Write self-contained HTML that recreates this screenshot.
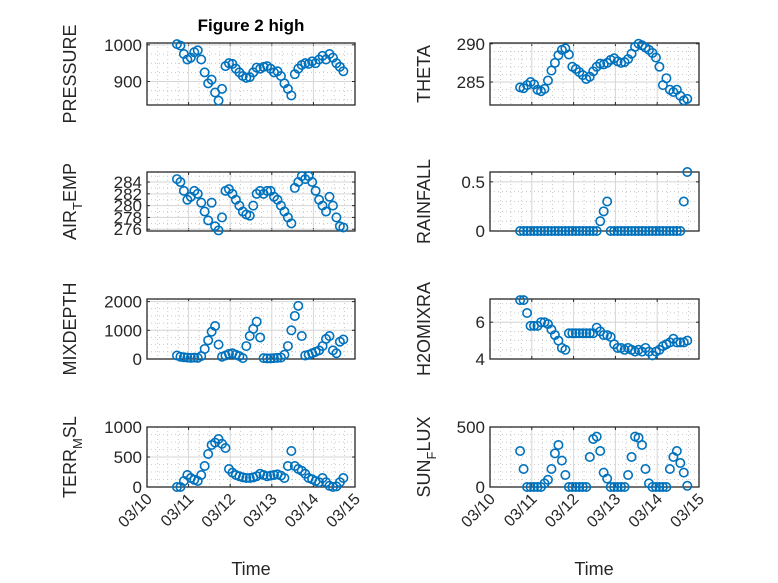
<!DOCTYPE html>
<html><head><meta charset="utf-8"><style>
html,body{margin:0;padding:0;background:#fff;}
svg{display:block;font-family:"Liberation Sans",sans-serif;}
</style></head><body>
<svg id="fig" width="778" height="583" viewBox="0 0 778 583" xmlns="http://www.w3.org/2000/svg">
<rect width="778" height="583" fill="#fff"/>
<text x="251" y="31" text-anchor="middle" font-size="17" font-weight="bold" fill="#000">Figure 2 high</text>
<text x="251" y="575" text-anchor="middle" font-size="18" fill="#262626">Time</text>
<text x="594" y="575" text-anchor="middle" font-size="18" fill="#262626">Time</text>
</svg>
<script>
const timeStart = 0.72;
const timeStepDays = 1/12;
const dayLabels = ["03/10","03/11","03/12","03/13","03/14","03/15"];
const pressure = [1002,998,975,960,965,980,985,960,925,895,905,870,848,880,942,950,948,935,925,915,910,912,925,938,935,940,942,935,925,928,915,895,880,862,920,935,945,950,948,955,950,960,970,960,975,965,950,940,928];
const airTemp = [284.5,284,282.5,281,281.5,282.5,282,280.5,279,277.5,280.5,276.5,275.8,278,282.5,282.8,282,281,280,279,278.5,278.3,280,282,282.5,282,282.5,282.5,281.5,281,280,279,278,277,283,284,285,284.5,285,284,282.5,281,280,279,281.5,280,278,276.5,276.3];
const mixDepth = [120,80,60,50,40,50,40,100,350,650,950,1150,500,80,120,180,200,150,100,30,450,800,1050,1300,750,30,20,20,30,40,50,150,450,1000,1500,1850,800,120,150,200,250,300,450,700,800,300,200,600,680];
const terrMsl = [0,0,100,200,150,120,100,200,350,550,700,740,800,720,650,300,240,200,180,160,150,150,160,180,220,200,180,190,200,210,190,150,350,600,350,300,270,220,150,130,100,80,150,80,20,0,10,80,150];
const theta = [284.3,284.2,284.6,285,284.7,284,283.8,284.1,285.2,286.5,287.5,288.5,289.2,289.4,288.6,287,286.7,286.3,285.9,285.4,285.7,286.4,287,287.4,287.3,287.5,287.9,288.1,287.7,287.5,287.6,288,288.7,289.6,290,289.8,289.5,289.2,288.8,288.2,287,284.6,285.5,284,283.7,284,283.2,282.6,282.8];
const rainfall = [0,0,0,0,0,0,0,0,0,0,0,0,0,0,0,0,0,0,0,0,0,0,0,0.1,0.2,0.3,0,0,0,0,0,0,0,0,0,0,0,0,0,0,0,0,0,0,0,0,0,0.3,0.6];
const h2oMix = [7.2,7.2,6.5,5.8,5.8,5.8,6.0,6.0,5.9,5.6,5.3,5.0,4.6,4.5,5.4,5.4,5.4,5.4,5.4,5.4,5.4,5.4,5.7,5.5,5.3,5.3,5.2,4.8,4.6,4.6,4.5,4.6,4.5,4.4,4.5,4.4,4.6,4.4,4.2,4.4,4.5,4.7,4.8,4.9,5.1,4.9,4.9,4.9,5.0];
const sunFlux = [300,150,0,0,0,0,0,30,60,150,280,350,220,100,0,0,0,0,0,0,250,400,420,300,120,70,0,0,0,0,0,100,250,420,410,350,150,30,0,0,0,0,0,150,250,300,200,120,10];
const pressureTicks = [900,1000];
const airTicks = [276,278,280,282,284];
const mixTicks = [0,1000,2000];
const terrTicks = [0,500,1000];
const thetaTicks = [285,290];
const rainTicks = [0,0.5];
const h2oTicks = [4,6];
const sunTicks = [0,500];

const NS="http://www.w3.org/2000/svg";
const svg=document.getElementById('fig');
function mk(tag,attrs,parent){const e=document.createElementNS(NS,tag);for(const k in attrs)e.setAttribute(k,attrs[k]);(parent||svg).appendChild(e);return e;}

const panels=[
 {key:'pressure',data:pressure,ticks:pressureTicks,dom:[836,1005],minor:25,x0:147,x1:355,y0:43,y1:105,label:[['PRESSURE','']]},
 {key:'air-temp',data:airTemp,ticks:airTicks,dom:[275.7,285.7],minor:1,x0:147,x1:355,y0:172,y1:231,label:[['AIR',''],['T','sub'],['EMP','']]},
 {key:'mixdepth',data:mixDepth,ticks:mixTicks,dom:[0,2090],minor:250,x0:147,x1:355,y0:299,y1:359,label:[['MIXDEPTH','']]},
 {key:'terr-msl',data:terrMsl,ticks:terrTicks,dom:[0,1000],minor:125,x0:147,x1:355,y0:427,y1:487,label:[['TERR',''],['M','sub'],['SL','']],bottom:true},
 {key:'theta',data:theta,ticks:thetaTicks,dom:[282,290.1],minor:1,x0:490,x1:699,y0:43,y1:105,label:[['THETA','']]},
 {key:'rainfall',data:rainfall,ticks:rainTicks,dom:[0,0.6],minor:0.1,x0:490,x1:699,y0:172,y1:231,label:[['RAINFALL','']]},
 {key:'h2omixra',data:h2oMix,ticks:h2oTicks,dom:[4,7.26],minor:0.5,x0:490,x1:699,y0:299,y1:359,label:[['H2OMIXRA','']]},
 {key:'sun-flux',data:sunFlux,ticks:sunTicks,dom:[0,500],minor:62.5,x0:490,x1:699,y0:427,y1:487,label:[['SUN',''],['F','sub'],['LUX','']],bottom:true}
];

panels.forEach(p=>{
 const g=mk('g',{});
 
 
 const xs=t=>p.x0+(t/5)*(p.x1-p.x0);
 const ys=v=>p.y1-(v-p.dom[0])/(p.dom[1]-p.dom[0])*(p.y1-p.y0);
 mk('rect',{x:p.x0,y:p.y0,width:p.x1-p.x0,height:p.y1-p.y0,fill:'#fff'},g);
 let start=Math.ceil(p.dom[0]/p.minor)*p.minor;
 for(let v=start;v<=p.dom[1]+1e-9;v+=p.minor){
   mk('line',{x1:p.x0,x2:p.x1,y1:ys(v),y2:ys(v),stroke:'#bdbdbd','stroke-width':0.8,'stroke-dasharray':'1,3'},g);
 }
 for(let d=0.25;d<5;d+=0.25){ if(Math.abs(d-Math.round(d))<1e-6) continue;
   mk('line',{x1:xs(d),x2:xs(d),y1:p.y0,y2:p.y1,stroke:'#bdbdbd','stroke-width':0.8,'stroke-dasharray':'1,3'},g);
 }
 dayLabels.forEach((lab,i)=>{
   mk('line',{x1:xs(i),x2:xs(i),y1:p.y0,y2:p.y1,stroke:'#d6d6d6','stroke-width':1},g);
   mk('line',{x1:xs(i),x2:xs(i),y1:p.y1,y2:p.y1-3,stroke:'#262626','stroke-width':1},g);
   mk('line',{x1:xs(i),x2:xs(i),y1:p.y0,y2:p.y0+3,stroke:'#262626','stroke-width':1},g);
   if(p.bottom){
     const t=mk('text',{x:0,y:0,'font-size':16,fill:'#262626','text-anchor':'end',transform:`translate(${xs(i)+6},${p.y1+13}) rotate(-45)`},g);
     
     
     t.textContent=lab;
   }
 });
 p.ticks.forEach(v=>{
   mk('line',{x1:p.x0,x2:p.x1,y1:ys(v),y2:ys(v),stroke:'#d6d6d6','stroke-width':1},g);
   mk('line',{x1:p.x0,x2:p.x0+3,y1:ys(v),y2:ys(v),stroke:'#262626','stroke-width':1},g);
   mk('line',{x1:p.x1,x2:p.x1-3,y1:ys(v),y2:ys(v),stroke:'#262626','stroke-width':1},g);
   const t=mk('text',{x:p.x0-5,y:ys(v)+6,'font-size':17,fill:'#262626','text-anchor':'end'},g);
   
   
   t.textContent=String(v);
 });
 mk('rect',{x:p.x0,y:p.y0,width:p.x1-p.x0,height:p.y1-p.y0,fill:'none',stroke:'#262626','stroke-width':1.3},g);
 const cy=(p.y0+p.y1)/2;
 const lx=p.x0<300?p.x0-71:p.x0-60;
 const lt=mk('text',{x:0,y:0,'font-size':18,fill:'#262626','text-anchor':'middle',transform:`translate(${lx},${cy}) rotate(-90)`},g);
 
 
 p.label.forEach(([s,k])=>{
   const ts=mk('tspan',{},lt);
   if(k==='sub'){ts.setAttribute('font-size','13');ts.setAttribute('dy','6');}
   else if(lt.childNodes.length>1){ts.setAttribute('dy','-6');}
   ts.textContent=s;
 });
 p.data.forEach((v,i)=>{
   const c=mk('circle',{cx:xs(timeStart+i*timeStepDays),cy:ys(v),r:4.2,fill:'none',stroke:'#0072BD','stroke-width':1.6},g);
   
   
 });
});
</script>
</body></html>
